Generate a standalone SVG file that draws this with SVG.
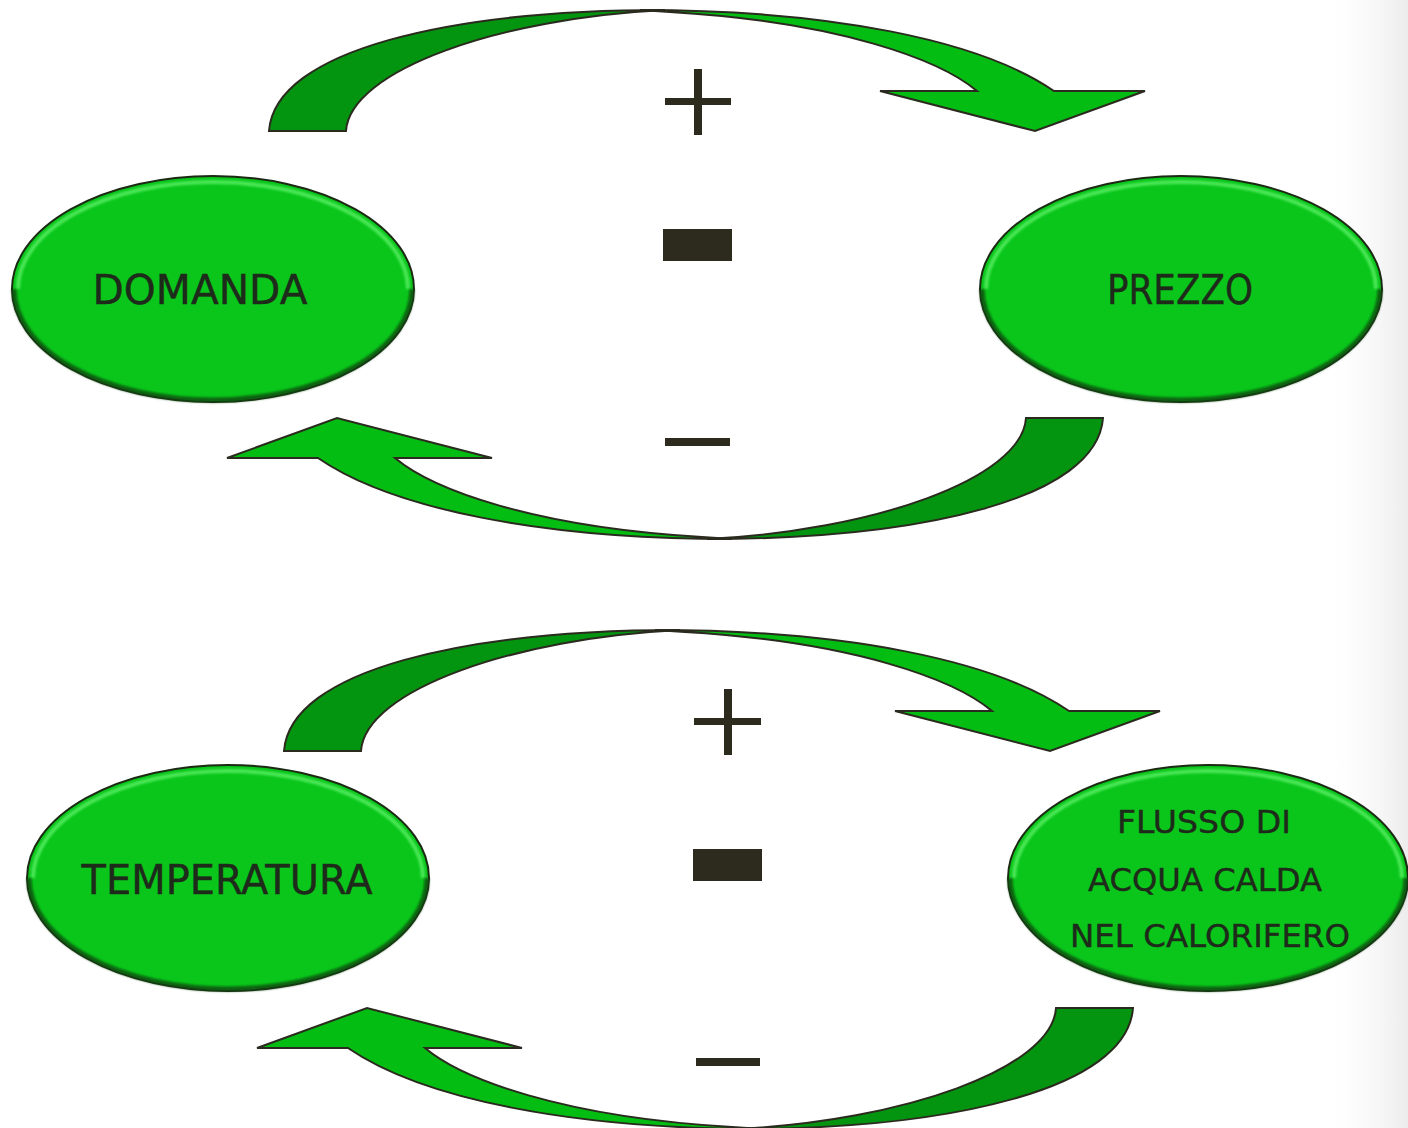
<svg xmlns="http://www.w3.org/2000/svg" width="1408" height="1128" viewBox="0 0 1408 1128">
<style>
.node-shape{fill:#0ac61b;stroke:#1c2a14;stroke-width:2}
.hl{fill:none;stroke:#5cf066;stroke-width:4;opacity:0.8;filter:url(#soft)}
.sh{fill:none;stroke:#0c4a10;stroke-width:5;opacity:0.8;filter:url(#soft)}
.lbl{font-family:"DejaVu Sans","Liberation Sans",sans-serif;fill:#1e2a1a;text-anchor:middle;stroke:#1e2a1a;stroke-width:0.4}
.dark{fill:#039510;stroke:#2a2a1e;stroke-width:2;stroke-linejoin:miter}
.bright{fill:#04bd13;stroke:#2a2a1e;stroke-width:2;stroke-linejoin:miter}
.sign{fill:#2d2a1e}
</style>
<defs>
<filter id="soft" x="-0.1" y="-0.2" width="1.2" height="1.4">
<feGaussianBlur stdDeviation="1.3"/>
</filter>
<linearGradient id="bg" x1="0" y1="0" x2="1" y2="0">
<stop offset="0" stop-color="#ffffff" stop-opacity="0"/>
<stop offset="1" stop-color="#ececec"/>
</linearGradient>
<g id="arrow">
<path class="dark" d="M269,131 C275,50 450,10 665,10 C500,18 350,70 346,131 Z"/>
<path class="bright" d="M640,10 C830,10 980,40 1054,91 L1145,91 L1035,131 L880,91 L977,91 C940,60 840,22 670,12 Z"/>
</g>
</defs>
<rect width="1408" height="1128" fill="#ffffff"/>
<rect x="1320" y="0" width="88" height="1128" fill="url(#bg)"/>
<g id="connectors">
<use href="#arrow"/>
<use href="#arrow" transform="rotate(180 686 274.5)"/>
<use href="#arrow" transform="translate(15,620)"/>
<use href="#arrow" transform="translate(30,590) rotate(180 686 274.5)"/>
</g>
<g id="signs">
<rect class="sign" x="665" y="98" width="66" height="7"/>
<rect class="sign" x="694" y="69" width="8" height="66"/>
<rect class="sign" x="663" y="229" width="69" height="32"/>
<rect class="sign" x="665" y="438" width="65" height="8"/>
<rect class="sign" x="694" y="718" width="67" height="7"/>
<rect class="sign" x="724" y="689" width="8" height="66"/>
<rect class="sign" x="693" y="849" width="69" height="32"/>
<rect class="sign" x="696" y="1058" width="64" height="8"/>
</g>
<g id="node-domanda">
<ellipse class="node-shape" cx="213" cy="289" rx="201" ry="113"/>
<path class="hl" d="M18,289 A195,107 0 0 1 408,289"/>
<path class="sh" d="M14,289 A199,111 0 0 0 412,289"/>
<text class="lbl" x="200" y="304" font-size="40" textLength="215" lengthAdjust="spacingAndGlyphs">DOMANDA</text>
</g>
<g id="node-prezzo">
<ellipse class="node-shape" cx="1181" cy="289" rx="201" ry="113"/>
<path class="hl" d="M986,289 A195,107 0 0 1 1376,289"/>
<path class="sh" d="M982,289 A199,111 0 0 0 1380,289"/>
<text class="lbl" x="1180" y="304" font-size="40" textLength="146" lengthAdjust="spacingAndGlyphs">PREZZO</text>
</g>
<g id="node-temperatura">
<ellipse class="node-shape" cx="228" cy="878" rx="201" ry="113"/>
<path class="hl" d="M33,878 A195,107 0 0 1 423,878"/>
<path class="sh" d="M29,878 A199,111 0 0 0 427,878"/>
<text class="lbl" x="227" y="894" font-size="40" textLength="291" lengthAdjust="spacingAndGlyphs">TEMPERATURA</text>
</g>
<g id="node-flusso">
<ellipse class="node-shape" cx="1208" cy="878" rx="200" ry="113"/>
<path class="hl" d="M1014,878 A194,107 0 0 1 1402,878"/>
<path class="sh" d="M1010,878 A198,111 0 0 0 1406,878"/>
<text class="lbl" x="1204" y="833" font-size="32" textLength="174" lengthAdjust="spacingAndGlyphs">FLUSSO DI</text>
<text class="lbl" x="1205" y="891" font-size="32" textLength="234" lengthAdjust="spacingAndGlyphs">ACQUA CALDA</text>
<text class="lbl" x="1210" y="947" font-size="32" textLength="280" lengthAdjust="spacingAndGlyphs">NEL CALORIFERO</text>
</g>
</svg>
